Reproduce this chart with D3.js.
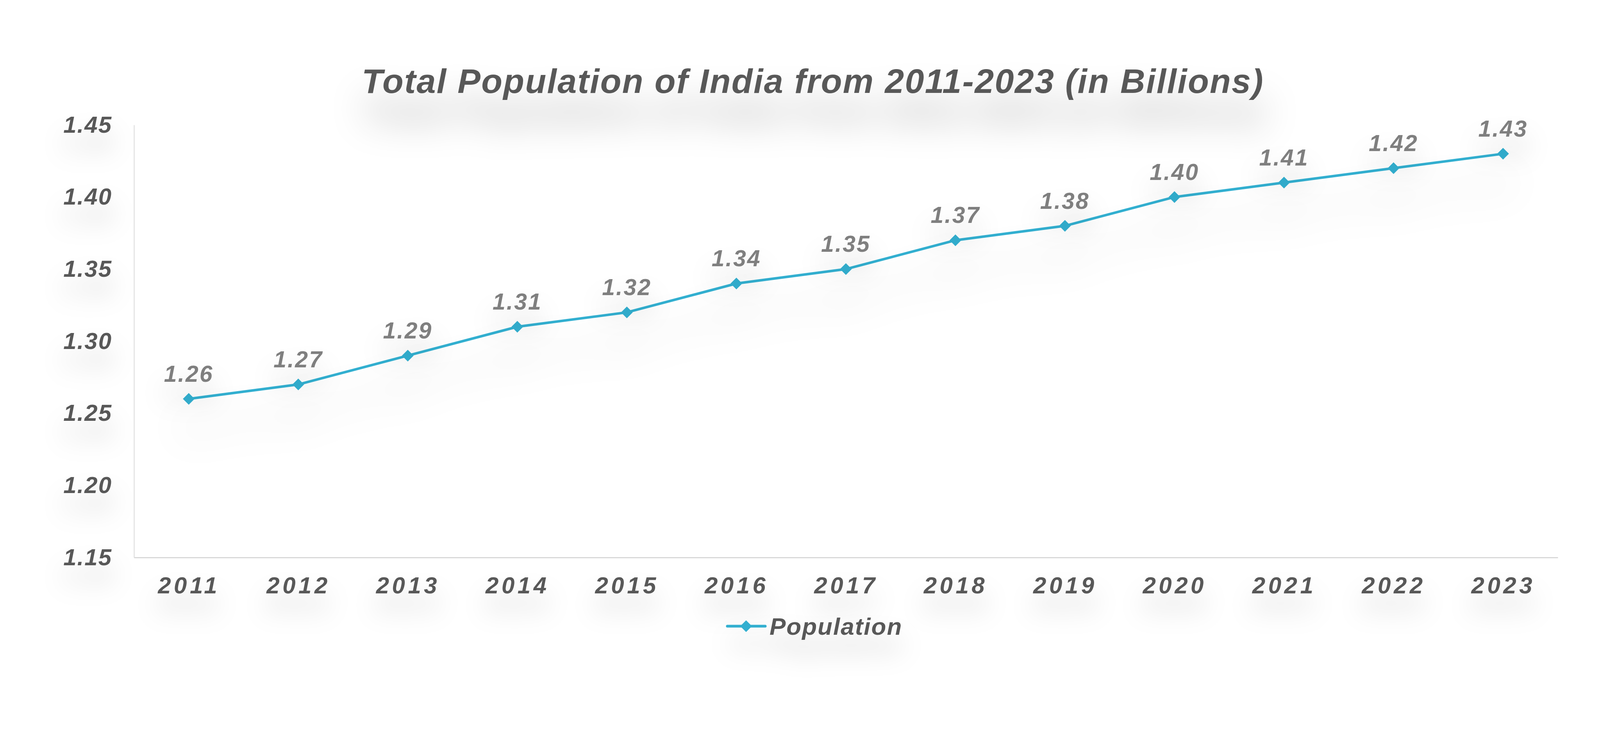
<!DOCTYPE html>
<html>
<head>
<meta charset="utf-8">
<script src="https://cdn.jsdelivr.net/npm/d3@7"></script>
<style>
  body { margin: 0; background: #fff; }
  text { font-family: "Liberation Sans", Arial, sans-serif; font-weight: bold; font-style: italic; }
</style>
</head>
<body>
<script>
// datos
var years = ["2011","2012","2013","2014","2015","2016","2017","2018","2019","2020","2021","2022","2023"]
var population = [1.26,1.27,1.29,1.31,1.32,1.34,1.35,1.37,1.38,1.40,1.41,1.42,1.43]
var yTicks = [1.15,1.20,1.25,1.30,1.35,1.40,1.45]
var titulo = "Total Population of India from 2011-2023 (in Billions)"
var serie = "Population"

var datos = years.map(function(d, i) { return {year: d, value: population[i]} })

var width = 4284, height = 1934
var margin = {top: 320, right: 296, bottom: 506, left: 343}
var color = "#31afd0"

var svg = d3.select("body")
    .append("svg")
        .attr("width", width)
        .attr("height", height)

// sombras
var defs = svg.append("defs")
function sombra(id, dy, sd, op) {
    defs.append("filter")
        .attr("id", id)
        .attr("x", "-50%").attr("y", "-100%")
        .attr("width", "200%").attr("height", "400%")
      .append("feDropShadow")
        .attr("dx", 0).attr("dy", dy)
        .attr("stdDeviation", sd)
        .attr("flood-color", "#000")
        .attr("flood-opacity", op)
}
sombra("sTitle", 75, 45, 0.32)
sombra("sText", 45, 32, 0.2)
sombra("sLine", 75, 50, 0.22)

//EJE X
var x = d3.scalePoint()
    .domain(years)
    .range([margin.left, width - margin.right])
    .padding(0.5)

//EJE Y
var y = d3.scaleLinear()
    .domain([1.15, 1.45])
    .range([height - margin.bottom, margin.top])

var ejeX = svg.append("g")
    .attr("transform", "translate(0," + (height - margin.bottom) + ")")
    .call(d3.axisBottom(x).tickSize(0).tickPadding(92))
ejeX.select(".domain").attr("stroke", "#d9d9d9").attr("stroke-width", 3)
ejeX.selectAll("text")
    .attr("dy", 0)
    .attr("fill", "#595959")
    .attr("font-size", 60)
    .attr("letter-spacing", 7.5)
    .attr("filter", "url(#sText)")

var ejeY = svg.append("g")
    .attr("transform", "translate(" + margin.left + ",0)")
    .call(d3.axisLeft(y).tickValues(yTicks).tickFormat(d3.format(".2f")).tickSize(0).tickPadding(56))
ejeY.select(".domain").attr("stroke", "#d9d9d9").attr("stroke-width", 2)
ejeY.selectAll("text")
    .attr("fill", "#595959")
    .attr("font-size", 60)
    .attr("letter-spacing", 2)
    .attr("filter", "url(#sText)")

//Línea
var linea = d3.line()
    .x(d => x(d.year))
    .y(d => y(d.value))

var gLinea = svg.append("g").attr("filter", "url(#sLine)")
gLinea.append("path")
    .datum(datos)
    .attr("fill", "none")
    .attr("stroke", color)
    .attr("stroke-width", 6.5)
    .attr("d", linea)

gLinea.selectAll(".punto")
    .data(datos)
    .enter().append("path")
        .attr("class", "punto")
        .attr("transform", d => "translate(" + x(d.year) + "," + y(d.value) + ")")
        .attr("d", "M0,-15L15,0L0,15L-15,0Z")
        .attr("fill", color)

// etiquetas
svg.append("g").attr("filter", "url(#sText)")
    .selectAll("text")
    .data(datos)
    .enter().append("text")
        .attr("x", d => x(d.year))
        .attr("y", d => y(d.value) - 44)
        .attr("text-anchor", "middle")
        .attr("font-size", 59)
        .attr("letter-spacing", 3)
        .attr("fill", "#7f7f7f")
        .text(d => d3.format(".2f")(d.value))

// titulo
svg.append("text")
    .attr("x", 2081)
    .attr("y", 238)
    .attr("text-anchor", "middle")
    .attr("font-size", 88)
    .attr("letter-spacing", 2.3)
    .attr("fill", "#595959")
    .attr("filter", "url(#sTitle)")
    .text(titulo)

// leyenda
var ley = svg.append("g")
    .attr("transform", "translate(1862,1604)")
    .attr("filter", "url(#sText)")
ley.append("line")
    .attr("x1", 0).attr("x2", 97)
    .attr("stroke", color)
    .attr("stroke-width", 7)
    .attr("stroke-linecap", "round")
ley.append("path")
    .attr("transform", "translate(48,0)")
    .attr("d", "M0,-15L15,0L0,15L-15,0Z")
    .attr("fill", color)
ley.append("text")
    .attr("x", 108)
    .attr("y", 22)
    .attr("font-size", 62)
    .attr("letter-spacing", 2)
    .attr("fill", "#595959")
    .text(serie)
</script>
</body>
</html>
